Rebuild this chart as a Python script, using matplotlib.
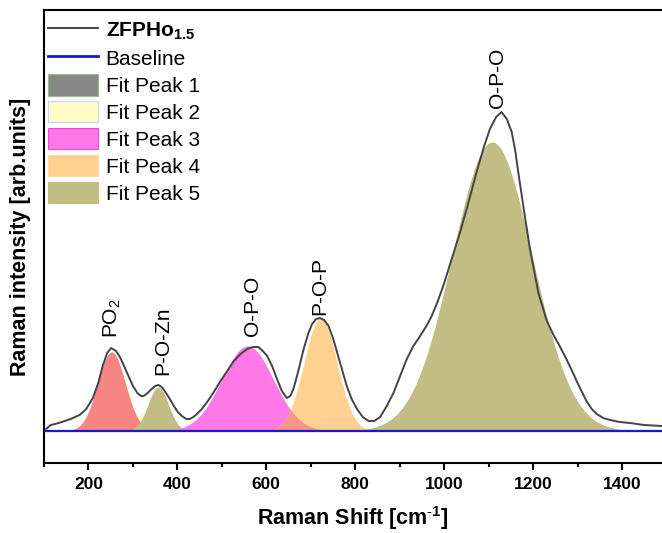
import numpy as np
import matplotlib
matplotlib.use('Agg')
import matplotlib.pyplot as plt
from matplotlib.lines import Line2D
from matplotlib.patches import Patch
from matplotlib.ticker import MultipleLocator

plt.rcParams['font.family'] = ['Liberation Sans', 'DejaVu Sans']
plt.rcParams['mathtext.fontset'] = 'custom'
plt.rcParams['mathtext.rm'] = 'Liberation Sans'
plt.rcParams['mathtext.it'] = 'Liberation Sans:italic'
plt.rcParams['mathtext.bf'] = 'Liberation Sans:bold'
plt.rcParams['mathtext.default'] = 'regular'

shift = [105, 115, 125, 140, 160, 180, 195, 210, 222, 232, 242, 251, 262, 272, 282,
         291, 300, 310, 318, 324, 333, 342, 350, 357, 365, 373, 383, 392, 401, 410,
         420, 428, 436, 444, 455, 467, 482, 497, 512, 527, 542, 557, 570, 582, 592,
         602, 613, 624, 635, 646, 654, 661, 672, 684, 694, 703, 712, 721, 730, 740,
         750, 759, 770, 781, 792, 804, 817, 830, 843, 856, 871, 886, 901, 916, 931,
         946, 960, 972, 985, 998, 1017, 1036, 1055, 1073, 1090, 1103, 1117, 1129, 1141, 1152,
         1160, 1167, 1178, 1193, 1212, 1231, 1246, 1261, 1276, 1290, 1298, 1310, 1320, 1332, 1343,
         1358, 1373, 1395, 1418, 1450, 1490]
intensity = [2, 6, 7, 9, 12, 16, 22, 33, 48, 65, 78, 83, 80, 73, 63,
             54, 45, 38, 35, 35, 38, 42, 45, 46, 44, 39, 32, 25, 19, 15,
             12, 12, 14, 17, 22, 29, 39, 50, 60, 70, 77, 82, 84, 84, 80,
             75, 65, 52, 40, 33, 35, 42, 60, 82, 97, 107, 112, 113, 111, 105,
             93, 79, 62, 45, 32, 22, 14, 10, 10, 14, 25, 38, 55, 72, 85,
             95, 105, 115, 129, 145, 172, 199, 229, 259, 285, 302, 314, 319, 312, 299,
             280, 258, 225, 182, 138, 110, 96, 84, 71, 58, 50, 39, 30, 22, 17,
             13, 11, 9, 8, 6, 5]
baseline_level = 0

# fitted Gaussian components: centre, height, sigma
peak_center = [318, 252, 357, 558, 722, 1108]
peak_height = [17, 79, 44, 85, 113, 289]
peak_sigma = [26, 31, 23, 58, 37, 90]
peak_fill = ['#FFFCC4', '#F78581', '#C2BD85', '#FF78E5', '#FFD190', '#C2BD85']

# band assignments
band_labels = ['PO$_2$', 'P-O-Zn', 'O-P-O', 'P-O-P', 'O-P-O']
band_x = [254, 368, 570, 721, 1119]
band_y = [93, 56, 95, 116, 323]

legend_labels = [r'ZFPHo$_{\mathbf{1.5}}$', 'Baseline', 'Fit Peak 1', 'Fit Peak 2',
                 'Fit Peak 3', 'Fit Peak 4', 'Fit Peak 5']
legend_colors = ['#888888', '#FFFCC8', '#FF78E5', '#FFD190', '#C2BD85']
legend_edges = ['#9ABB9A', '#C8D0FF', '#FF40E0', '#FFD8A8', '#C2BD85']

fig = plt.figure(figsize=(6.62, 5.33), dpi=100)
ax = fig.add_axes([44 / 662, 1 - 463 / 533, 618 / 662, 453 / 533])

xs = np.linspace(100, 1490, 1500)
comps = []
for c, h, s, col in zip(peak_center, peak_height, peak_sigma, peak_fill):
    g = h * np.exp(-(xs - c) ** 2 / (2 * s ** 2))
    comps.append(g)
    ax.fill_between(xs, baseline_level, g, color=col, lw=0, zorder=2)
# pink / orange overlap looks salmon
ax.fill_between(xs, baseline_level, np.minimum(comps[3], comps[4]),
                color='#F7958B', lw=0, zorder=2.5)

ax.plot(shift, intensity, color='#444444', lw=1.4, zorder=4)
ax.axhline(baseline_level, color='#1818CC', lw=1.6, zorder=3)

for lab, bx, by in zip(band_labels, band_x, band_y):
    ax.text(bx, by, lab, rotation=90, ha='center', va='bottom', fontsize=15, zorder=5)

ax.set_xlim(100, 1490)
ax.set_ylim(-32, 421)
ax.xaxis.set_major_locator(MultipleLocator(200))
ax.xaxis.set_minor_locator(MultipleLocator(100))
ax.set_yticks([])
ax.tick_params(axis='x', which='major', direction='out', length=5, width=1.5,
               labelsize=12.5, pad=5)
ax.tick_params(axis='x', which='minor', direction='out', length=3, width=1.5)
for t in ax.get_xticklabels():
    t.set_fontweight('bold')
ax.spines['right'].set_visible(False)
for sp in ['left', 'top', 'bottom']:
    ax.spines[sp].set_linewidth(1.5)

ax.set_xlabel(r'Raman Shift [cm$^{\text{-}\mathbf{1}}$]', fontsize=15.5,
              fontweight='bold', labelpad=9)
ax.set_ylabel('Raman intensity [arb.units]', fontsize=15.5, fontweight='bold', labelpad=9)

handles = [Line2D([], [], color='#444444', lw=1.4),
           Line2D([], [], color='#1818CC', lw=2)]
for fc, ec in zip(legend_colors, legend_edges):
    handles.append(Patch(facecolor=fc, edgecolor=ec, lw=0.8))
leg = ax.legend(handles, legend_labels, loc='upper left', bbox_to_anchor=(0.002, 0.987),
                frameon=False, fontsize=15, handlelength=2.4, handleheight=1.2,
                handletextpad=0.35, labelspacing=0.25, borderaxespad=0.0, borderpad=0.15)
leg.get_texts()[0].set_fontweight('bold')

plt.savefig('out.png', dpi=100)
